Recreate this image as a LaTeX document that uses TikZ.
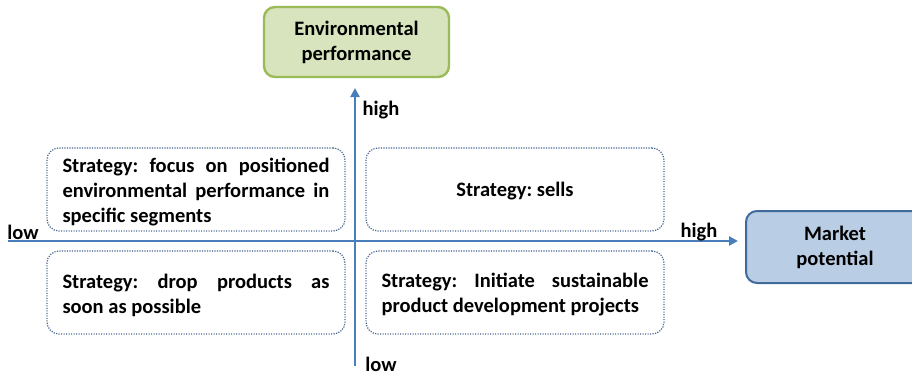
\documentclass[tikz,border=0pt]{standalone}
\usepackage{fontspec}
\setmainfont{Carlito}
\usetikzlibrary{arrows.meta}
\definecolor{axisblue}{HTML}{4A7EBB}
\definecolor{envfill}{HTML}{D7E4BD}
\definecolor{envline}{HTML}{9BBB59}
\definecolor{mktfill}{HTML}{B9CDE5}
\definecolor{mktline}{HTML}{3F6A9A}
\definecolor{dotline}{HTML}{44628F}
\tikzset{
  axis/.style={draw=axisblue, line width=2.6pt, -{Triangle[length=9pt,width=9pt]}},
  catbox/.style={rectangle, rounded corners=11pt, align=center, line width=2.4pt},
  stratbox/.style={rectangle, rounded corners=12pt, draw=dotline, line width=1.2pt,
    dash pattern=on 1.2pt off 1.3pt,
    minimum width=298pt, minimum height=83pt, inner sep=0pt},
  strattext/.style={text width=267pt, align=justify, yshift=-2.5pt},
  axislabel/.style={inner sep=0pt}
}
\newcommand{\lastline}{\hspace*{\fill}}
\begin{document}
\hyphenpenalty=10000
\frenchspacing
\begin{tikzpicture}[x=1pt, y=-1pt, font=\bfseries\fontsize{20.5}{25}\selectfont]
\useasboundingbox (0,0) rectangle (912,375);
\clip (0,0) rectangle (912,375);

% axes
\coordinate (vbot) at (355,366);
\coordinate (vtop) at (355,88);
\coordinate (hleft) at (8,241);
\coordinate (hright) at (738,241);
\draw[axis] (vbot) -- (vtop);
\draw[axis] (hleft) -- (hright);

% axis end labels
\node[axislabel] (vhigh) at (381,110) {high};
\node[axislabel] (vlow) at (381,364) {low};
\node[axislabel] (hlow) at (23,232) {low};
\node[axislabel] (hhigh) at (699,232) {high};

% axis titles
\node[catbox, fill=envfill, draw=envline, minimum width=185pt, minimum height=70pt] (env) at (356.5,42) {Environmental\\performance};
\node[catbox, fill=mktfill, draw=mktline, line width=2pt, minimum width=178pt, minimum height=72pt] (mkt) at (835,247) {Market\\potential};

% quadrant strategies
\node[stratbox] (tl) at (196,189.5) {};
\node[strattext] at (tl) {Strategy: focus on positioned\linebreak environmental performance in\linebreak specific segments\lastline};
\node[stratbox] (tr) at (515,189.5) {};
\node[yshift=-2pt] at (tr) {Strategy: sells};
\node[stratbox] (bl) at (196,292.5) {};
\node[strattext] at (bl) {Strategy: drop products as\linebreak soon as possible\lastline};
\node[stratbox] (br) at (515,292.5) {};
\node[strattext] at (br) {Strategy: Initiate sustainable\linebreak product development projects\lastline};
\end{tikzpicture}
\end{document}
